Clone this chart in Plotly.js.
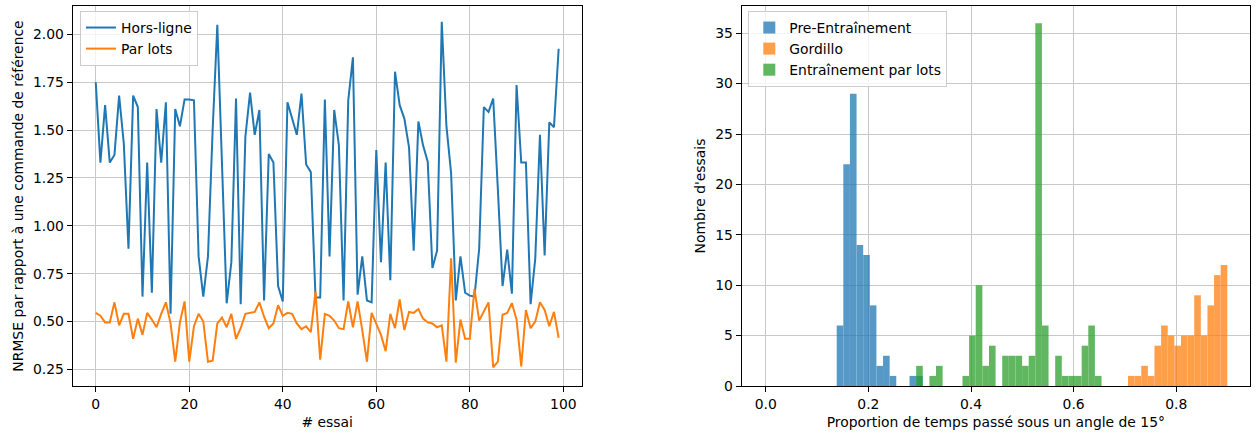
<!DOCTYPE html>
<html>
<head>
<meta charset="utf-8">
<script src="https://cdn.plot.ly/plotly-3.0.1.min.js"></script>
<style>html,body{margin:0;padding:0;background:#fff;}#chart{width:1257px;height:438px;}</style>
</head>
<body>
<div id="chart"></div>
<script>
// Left chart: NRMSE per trial (trial index 0..99)
const horsLigne = [1.75,1.33,1.63,1.33,1.37,1.68,1.43,0.88,1.68,1.62,
  0.63,1.33,0.65,1.61,1.33,1.645,0.54,1.61,1.52,1.66,
  1.66,1.655,0.84,0.63,0.84,1.50,2.05,1.35,0.595,0.81,
  1.665,0.59,1.465,1.695,1.475,1.605,0.61,1.375,1.33,0.685,
  0.605,1.645,1.56,1.475,1.69,1.32,1.28,0.625,0.625,1.66,
  0.84,1.605,1.42,0.61,1.655,1.88,0.64,0.84,0.61,0.60,
  1.395,0.81,1.33,0.715,1.805,1.63,1.56,1.41,0.87,1.545,
  1.42,1.335,0.78,0.87,2.065,1.52,1.275,0.61,0.84,0.65,
  0.635,0.63,0.88,1.62,1.595,1.665,1.19,0.685,0.875,0.645,
  1.735,1.33,1.33,0.59,0.83,1.475,0.845,1.54,1.515,1.925];
const parLots = [0.545,0.53,0.495,0.495,0.60,0.48,0.54,0.54,0.41,0.515,
  0.43,0.545,0.51,0.47,0.54,0.60,0.49,0.29,0.495,0.605,
  0.29,0.475,0.54,0.50,0.29,0.295,0.49,0.52,0.47,0.54,
  0.41,0.465,0.54,0.545,0.55,0.60,0.525,0.465,0.49,0.585,
  0.53,0.545,0.54,0.49,0.46,0.475,0.445,0.655,0.30,0.54,
  0.53,0.505,0.465,0.46,0.605,0.47,0.605,0.455,0.29,0.545,
  0.49,0.43,0.345,0.54,0.465,0.615,0.455,0.55,0.545,0.565,
  0.515,0.495,0.49,0.47,0.48,0.29,0.83,0.285,0.51,0.41,
  0.41,0.67,0.505,0.55,0.60,0.26,0.29,0.535,0.545,0.595,
  0.51,0.265,0.56,0.465,0.50,0.60,0.56,0.475,0.55,0.415];

// Right chart: histogram counts on common bins
const binStart = 0.1383;
const binWidth = 0.0129;
const preFirstBin = 0;
const preCounts = [6,22,29,14,13,8,2,3,1,0,0,1,1];
const gordilloFirstBin = 44;
const gordilloCounts = [1,1,2,1,4,6,5,4,5,5,9,5,8,11,12];
const lotsFirstBin = 12;
const lotsCounts = [2,0,1,2,0,0,0,1,5,10,2,4,0,3,3,3,2,3,36,6,0,3,1,1,1,4,6,1];

function centers(first, counts) {
  return counts.map((_, k) => binStart + (first + k + 0.5) * binWidth);
}

const FONT = 'DejaVu Sans, Liberation Sans, sans-serif';
const FS = 13.9;

const traces = [
  {type:'scatter', mode:'lines', y: horsLigne, name:'Hors-ligne', xaxis:'x', yaxis:'y',
   line:{color:'#1f77b4', width:2}, legend:'legend', legendgroup:'a'},
  {type:'scatter', mode:'lines', y: parLots, name:'Par lots', xaxis:'x', yaxis:'y',
   line:{color:'#ff7f0e', width:2}, legend:'legend', legendgroup:'b'},
  {type:'bar', x: centers(preFirstBin, preCounts), y: preCounts, width: binWidth,
   name:'Pre-Entraînement', xaxis:'x2', yaxis:'y2', opacity:0.75,
   marker:{color:'#1f77b4', line:{width:0}}, legend:'legend2', legendgroup:'c'},
  {type:'bar', x: centers(gordilloFirstBin, gordilloCounts), y: gordilloCounts, width: binWidth,
   name:'Gordillo', xaxis:'x2', yaxis:'y2', opacity:0.75,
   marker:{color:'#ff7f0e', line:{width:0}}, legend:'legend2', legendgroup:'d'},
  {type:'bar', x: centers(lotsFirstBin, lotsCounts), y: lotsCounts, width: binWidth,
   name:'Entraînement par lots', xaxis:'x2', yaxis:'y2', opacity:0.75,
   marker:{color:'#2ca02c', line:{width:0}}, legend:'legend2', legendgroup:'e'}
];

const axBase = {
  showline:true, mirror:true, linecolor:'#000', linewidth:1,
  ticks:'outside', ticklen:5, tickwidth:1, tickcolor:'#000',
  showgrid:true, gridcolor:'#c8c8c8', gridwidth:1, zeroline:false,
  tickfont:{family:FONT, size:FS, color:'#000'}
};

const legBase = {
  bgcolor:'rgba(255,255,255,0.8)', bordercolor:'#cccccc', borderwidth:1,
  font:{family:FONT, size:FS, color:'#000'},
  xanchor:'left', yanchor:'top', traceorder:'grouped', tracegroupgap:0
};

const layout = {
  width:1257, height:438,
  margin:{l:0, r:0, t:0, b:0},
  paper_bgcolor:'#fff', plot_bgcolor:'#fff',
  font:{family:FONT, size:FS, color:'#000'},
  barmode:'overlay',
  showlegend:true,
  xaxis: Object.assign({}, axBase, {
    domain:[72.6/1257, 581.8/1257], anchor:'y',
    range:[-4.95, 103.95], tick0:0, dtick:20,
    title:{text:'# essai', font:{family:FONT, size:FS, color:'#000'}, standoff:6}
  }),
  yaxis: Object.assign({}, axBase, {
    domain:[1-386/438, 1-6/438], anchor:'x',
    range:[0.163, 2.148], tick0:0, dtick:0.25, tickformat:'.2f',
    title:{text:'NRMSE par rapport à une commande de référence', font:{family:FONT, size:FS, color:'#000'}, standoff:6}
  }),
  xaxis2: Object.assign({}, axBase, {
    domain:[741.7/1257, 1250/1257], anchor:'y2',
    range:[-0.0468, 0.9436], tick0:0, dtick:0.2, tickformat:'.1f',
    title:{text:'Proportion de temps passé sous un angle de 15°', font:{family:FONT, size:FS, color:'#000'}, standoff:6}
  }),
  yaxis2: Object.assign({}, axBase, {
    domain:[1-386/438, 1-6/438], anchor:'x2',
    range:[0, 37.7], tick0:0, dtick:5,
    title:{text:"Nombre d'essais", font:{family:FONT, size:FS, color:'#000'}, standoff:6}
  }),
  legend: Object.assign({}, legBase, {x:80/1257, y:1-11/438}),
  legend2: Object.assign({}, legBase, {x:748.3/1257, y:1-11/438})
};

Plotly.newPlot('chart', traces, layout, {displayModeBar:false, staticPlot:true});
</script>
</body>
</html>
